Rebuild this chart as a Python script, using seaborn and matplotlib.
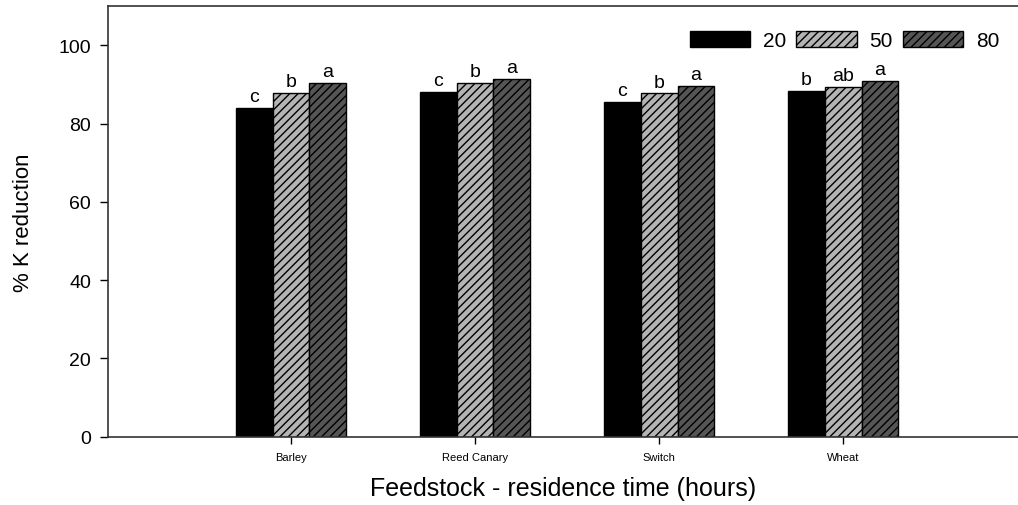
import matplotlib
matplotlib.use("Agg")
import matplotlib.pyplot as plt
import seaborn as sns
import pandas as pd
from matplotlib.patches import Patch

feedstocks = ["Barley", "Reed Canary", "Switch", "Wheat"]
times = ["20", "50", "80"]
vals_20 = [84.0, 88.1, 85.6, 88.3]
vals_50 = [87.9, 90.4, 87.7, 89.4]
vals_80 = [90.3, 91.5, 89.6, 90.8]
letters_20 = ["c", "c", "c", "b"]
letters_50 = ["b", "b", "b", "ab"]
letters_80 = ["a", "a", "a", "a"]

rows = []
for t, vals in zip(times, [vals_20, vals_50, vals_80]):
    for f, v in zip(feedstocks, vals):
        rows.append({"Feedstock": f, "Time": t, "Value": v})
df = pd.DataFrame(rows)

sns.set_theme(style="white")
plt.rcParams["font.family"] = ["Liberation Sans", "DejaVu Sans"]
plt.rcParams["hatch.linewidth"] = 1.0
for k in ["text.color", "axes.labelcolor", "xtick.color", "ytick.color"]:
    plt.rcParams[k] = "black"

fig = plt.figure(figsize=(10.18, 5.06), dpi=100)
ax = fig.add_axes([0.106, 0.135, 0.894, 0.851])

colors = ["#000000", "#b4b4b4", "#555555"]
hatches = ["", "////", "////"]
sns.barplot(data=df, x="Feedstock", y="Value", hue="Time", order=feedstocks,
            hue_order=times, palette=colors, width=0.6, ax=ax,
            edgecolor="black", linewidth=1.0, legend=False, saturation=1)

for cont, h, labs in zip(ax.containers, hatches, [letters_20, letters_50, letters_80]):
    for p in cont:
        p.set_hatch(h)
        p.set_edgecolor("black")
    ax.bar_label(cont, labels=labs, padding=2, fontsize=14)

ax.set_xlim(-0.995, 3.95)
ax.set_ylim(0, 110)
ax.set_yticks([0, 20, 40, 60, 80, 100])
ax.tick_params(axis="y", labelsize=14, length=6, width=1, direction="out", left=True, pad=6)
ax.tick_params(axis="x", labelsize=8, length=5, width=1, direction="out", bottom=True, pad=6)
for s in ["left", "bottom", "top"]:
    ax.spines[s].set_color("#333333")
    ax.spines[s].set_linewidth(1.2)
ax.spines["right"].set_visible(False)

ax.set_xlabel("Feedstock - residence time (hours)", fontsize=18, labelpad=10)
ax.set_ylabel("% K reduction", fontsize=16, labelpad=18,
              family=["Liberation Sans Narrow", "Liberation Sans", "DejaVu Sans"])

handles = [Patch(facecolor=c, edgecolor="black", hatch=h, linewidth=1.0) for c, h in zip(colors, hatches)]
ax.legend(handles, times, loc="upper right", ncol=3, frameon=False, fontsize=15,
          handlelength=2.9, handleheight=0.75, columnspacing=0.5, handletextpad=0.6,
          bbox_to_anchor=(1.0, 0.985))

fig.savefig("out.png", dpi=100)
